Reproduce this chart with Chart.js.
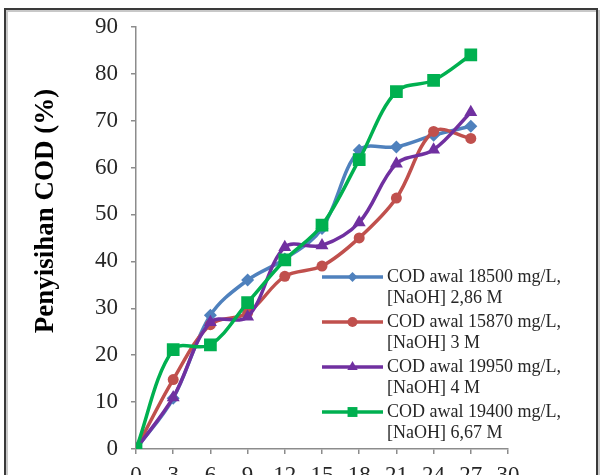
<!DOCTYPE html>
<html>
<head>
<meta charset="utf-8">
<script src="https://cdn.jsdelivr.net/npm/chart.js@4.4.1/dist/chart.umd.min.js"></script>
<style>
  html, body { margin: 0; padding: 0; background: #fff; overflow: hidden; }
  #wrap { position: relative; width: 608px; height: 475px; overflow: hidden; }
  canvas { position: absolute; left: 0; top: 0; }
</style>
</head>
<body>
<div id="wrap">
  <canvas id="chart" width="608" height="500"></canvas>
</div>
<script>
// --- Data ---
const timeHours = [0, 3, 6, 9, 12, 15, 18, 21, 24, 27];
const cod18500 = [0, 10.8, 28.5, 36.0, 40.5, 47.0, 63.7, 64.4, 66.9, 68.8];
const cod15870 = [0, 14.8, 26.5, 29.0, 36.8, 39.0, 45.0, 53.5, 67.7, 66.2];
const cod19950 = [0, 11.0, 27.0, 28.2, 43.0, 43.4, 48.3, 60.8, 63.8, 71.8];
const cod19400 = [0, 21.2, 22.2, 31.2, 40.3, 47.7, 61.7, 76.2, 78.6, 84.0];

const seriesLabels = [
  ['COD awal 18500 mg/L,', '[NaOH] 2,86 M'],
  ['COD awal 15870 mg/L,', '[NaOH] 3 M'],
  ['COD awal 19950 mg/L,', '[NaOH] 4 M'],
  ['COD awal 19400 mg/L,', '[NaOH] 6,67 M']
];
const yTitle = 'Penyisihan COD (%)';
const xTicks = [0, 3, 6, 9, 12, 15, 18, 21, 24, 27, 30];

// --- Styles ---
const SERIF = "'Liberation Serif', 'Times New Roman', serif";
const COLORS = ['#4f81bd', '#c0504d', '#7030a0', '#00b050'];
const POINT_STYLES = ['rectRot', 'circle', 'triangle', 'rect'];
const POINT_RADII = [6.5, 5.5, 7.5, 9];

function toPoints(values) {
  return values.map((v, i) => ({ x: timeHours[i], y: v }));
}

const allSeries = [cod18500, cod15870, cod19950, cod19400];

const datasets = allSeries.map((values, i) => ({
  label: seriesLabels[i].join(' '),
  data: toPoints(values),
  borderColor: COLORS[i],
  backgroundColor: COLORS[i],
  borderWidth: 3.5,
  pointStyle: POINT_STYLES[i],
  pointRadius: POINT_RADII[i],
  pointBorderWidth: 0,
  tension: 0.35,
  order: 4 - i // green on top, like the original
}));

// Outer frame, legend and rotated axis title drawn by hand
const legendAndTitle = {
  id: 'legendAndTitle',
  afterDraw(chart) {
    const ctx = chart.ctx;

    // outer frame (bottom edge falls outside the window)
    ctx.save();
    ctx.lineWidth = 2;
    ctx.strokeStyle = '#c8c8c8';
    ctx.strokeRect(7, 11, 592, 520);
    ctx.strokeStyle = '#3a3a3a';
    ctx.strokeRect(5, 9, 592, 520);
    ctx.restore();

    // y axis title
    ctx.save();
    ctx.translate(46, 211);
    ctx.rotate(-Math.PI / 2);
    ctx.font = `bold 27px ${SERIF}`;
    ctx.fillStyle = '#000';
    ctx.textAlign = 'center';
    ctx.textBaseline = 'middle';
    ctx.fillText(yTitle, 0, 0);
    ctx.restore();

    // legend
    const keyX0 = 322, keyX1 = 383, textX = 387;
    const firstY = 277, entryGap = 45, lineGap = 21;
    const markerR = [5, 5, 6, 7];
    ctx.save();
    seriesLabels.forEach((lines, i) => {
      const y = firstY + i * entryGap;
      ctx.strokeStyle = COLORS[i];
      ctx.lineWidth = 3.5;
      ctx.beginPath();
      ctx.moveTo(keyX0, y);
      ctx.lineTo(keyX1, y);
      ctx.stroke();
      ctx.fillStyle = COLORS[i];
      const cx = (keyX0 + keyX1) / 2;
      Chart.helpers.drawPoint(ctx, { pointStyle: POINT_STYLES[i], radius: markerR[i], rotation: 0, borderWidth: 0 }, cx, y);
      ctx.fillStyle = '#262626';
      ctx.font = `18px ${SERIF}`;
      ctx.textAlign = 'left';
      ctx.textBaseline = 'middle';
      lines.forEach((t, k) => ctx.fillText(t, textX, y + k * lineGap));
    });
    ctx.restore();
  }
};

document.addEventListener('DOMContentLoaded', () => {
  const ctx = document.getElementById('chart').getContext('2d');
  new Chart(ctx, {
    type: 'line',
    data: { datasets },
    options: {
      responsive: false,
      animation: false,
      devicePixelRatio: 1,
      layout: { padding: { left: 20, right: 100, top: 25, bottom: 0 } },
      plugins: {
        legend: { display: false },
        tooltip: { enabled: false }
      },
      scales: {
        x: {
          type: 'linear',
          min: 0,
          max: 30,
          afterBuildTicks: (scale) => { scale.ticks = xTicks.map(v => ({ value: v })); },
          afterFit: (scale) => { scale.height = 51; },
          border: { color: '#8c8c8c', width: 1.5 },
          grid: { drawOnChartArea: false, tickLength: 5, color: '#8c8c8c', lineWidth: 1.5 },
          ticks: { color: '#262626', font: { family: SERIF, size: 23 }, padding: 8, maxRotation: 0 }
        },
        y: {
          min: 0,
          max: 90,
          afterFit: (scale) => { scale.width = 116; },
          border: { color: '#8c8c8c', width: 1.5 },
          grid: { drawOnChartArea: false, tickLength: 5, color: '#8c8c8c', lineWidth: 1.5 },
          ticks: { stepSize: 10, color: '#262626', font: { family: SERIF, size: 23 }, padding: 13 }
        }
      }
    },
    plugins: [legendAndTitle]
  });
});
</script>
</body>
</html>
